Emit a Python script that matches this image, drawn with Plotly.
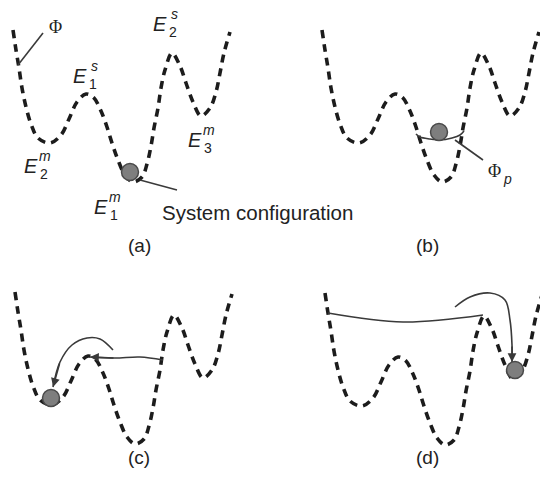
import plotly.graph_objects as go

# ---------------- data (local landscape units) ----------------
land_x = [0, 3, 6, 9, 13, 18, 25, 37, 48, 56, 64, 73, 81, 88, 94, 99, 105, 112, 120,
          129, 134, 138, 141, 145, 148, 152, 159, 167, 173, 180, 188, 197, 203, 207, 211, 217]
land_E = [170, 150, 132, 112, 93, 76, 62, 57, 65, 81, 98, 106, 102, 89, 73, 57, 40, 25, 18,
          23, 36, 54, 72, 92, 112, 130, 147, 134, 117, 98, 84, 92, 108, 127, 147, 168]

panel_names = ["(a)", "(b)", "(c)", "(d)"]
ball_x = [117, 117, 36, 190]
ball_E = [28, 68, 64, 93]

# panel (a) annotations
phi_lead_x = [5, 30]
phi_lead_E = [135, 167]
sys_lead_x = [127, 164]
sys_lead_E = [20, 10]
e_sup = ["s", "s", "m", "m", "m"]
e_sub = ["1", "2", "2", "3", "1"]
e_x = [67, 147, 18, 182, 88]
e_E = [124, 176, 34, 60, -7]

# panel (b): local harmonic approximation
phip_x = [94, 98, 108, 118, 130, 138, 142]
phip_E = [66, 63, 61, 60, 62, 65, 69]
phip_lead_x = [133, 161]
phip_lead_E = [60, 40]

# panel (c): paths
c_path_x = [148, 125, 100, 75]
c_path_E = [102, 105, 104, 105]
c_jump_x = [98, 85, 72, 57, 45, 38]
c_jump_E = [112, 123, 124, 117, 100, 75]

# panel (d): paths
d_path_x = [3, 78, 158]
d_path_E = [150, 141, 148]
d_jump_x = [130, 145, 165, 180, 185, 187, 187]
d_jump_E = [156, 166, 170, 163, 143, 118, 101]

# ---------------- figure ----------------
fig = go.Figure()
axes = [("x", "y"), ("x2", "y2"), ("x3", "y3"), ("x4", "y4")]
xdoms = [[0, 0.5], [0.5, 1], [0, 0.5], [0.5, 1]]
ydoms = [[0.5, 1], [0.5, 1], [0, 0.5], [0, 0.5]]
xranges = [[-13, 257], [-52, 218], [-15, 255], [-55, 215]]
yranges = [[-42.5, 200], [-42.5, 200], [-23, 219.5], [-22, 220.5]]

DASH = dict(color="#1c1c1c", width=3.6, dash="8px,6px", shape="spline", smoothing=1)
THIN = dict(color="#3a3a3a", width=1.6)
FONT = "Liberation Sans, Arial, sans-serif"

def thin(xs, ys, ax, spline=False):
    ln = dict(THIN)
    if spline:
        ln.update(shape="spline", smoothing=1)
    fig.add_trace(go.Scatter(x=xs, y=ys, mode="lines", line=ln,
                             xaxis=ax[0], yaxis=ax[1], hoverinfo="skip"))

for i, ax in enumerate(axes):
    fig.add_trace(go.Scatter(x=land_x, y=land_E, mode="lines", line=DASH,
                             xaxis=ax[0], yaxis=ax[1], hoverinfo="skip"))

# extra lines
thin(phi_lead_x, phi_lead_E, axes[0])
thin(sys_lead_x, sys_lead_E, axes[0])
thin(phip_x, phip_E, axes[1], spline=True)
thin(phip_lead_x, phip_lead_E, axes[1])
thin(c_path_x, c_path_E, axes[2], spline=True)
thin(c_jump_x, c_jump_E, axes[2], spline=True)
thin(d_path_x, d_path_E, axes[3], spline=True)
thin(d_jump_x, d_jump_E, axes[3], spline=True)

# balls
for i, ax in enumerate(axes):
    fig.add_trace(go.Scatter(x=[ball_x[i]], y=[ball_E[i]], mode="markers",
                             marker=dict(size=17, color="#7e7e7e",
                                         line=dict(color="#4a4a4a", width=1.5)),
                             xaxis=ax[0], yaxis=ax[1], hoverinfo="skip"))

ann = []
def head(xs, ys, ax):
    ann.append(dict(x=xs[-1], y=ys[-1], ax=xs[-2], ay=ys[-2],
                    xref=ax[0], yref=ax[1], axref=ax[0], ayref=ax[1],
                    showarrow=True, arrowhead=2, arrowsize=1.1, arrowwidth=1.6,
                    arrowcolor="#3a3a3a", text=""))

head(c_path_x, c_path_E, axes[2])
head(c_jump_x, c_jump_E, axes[2])
head(d_jump_x, d_jump_E, axes[3])

# E labels
for sup, sub, x, e in zip(e_sup, e_sub, e_x, e_E):
    ann.append(dict(x=x, y=e, xref="x", yref="y", showarrow=False, text="<i>E</i>",
                    font=dict(family=FONT, size=20, color="#222")))
    ann.append(dict(x=x, y=e, xref="x", yref="y", showarrow=False, text="<i>%s</i>" % sup,
                    xshift=14, yshift=10, font=dict(family=FONT, size=14, color="#222")))
    ann.append(dict(x=x, y=e, xref="x", yref="y", showarrow=False, text=sub,
                    xshift=12.5, yshift=-8, font=dict(family=FONT, size=14, color="#222")))

# Phi labels
ann.append(dict(x=42, y=173, xref="x", yref="y", showarrow=False, text="Φ",
                font=dict(family="Liberation Serif, serif", size=18, color="#222")))
ann.append(dict(x=172.5, y=29, xref="x2", yref="y2", showarrow=False, text="Φ",
                font=dict(family="Liberation Serif, serif", size=18, color="#222")))
ann.append(dict(x=172.5, y=29, xref="x2", yref="y2", showarrow=False, text="<i>p</i>",
                xshift=13, yshift=-8, font=dict(family=FONT, size=14, color="#222")))

# System configuration
ann.append(dict(x=147, y=-12, xref="x", yref="y", showarrow=False, xanchor="left",
                text="System configuration", font=dict(family=FONT, size=20.5, color="#222")))

# panel labels
lab_px = [126, 441, 126, 441]
lab_py = [245, 245, 470, 470]
for name, px, py in zip(panel_names, lab_px, lab_py):
    ann.append(dict(x=px / 540, y=1 - py / 485, xref="paper", yref="paper",
                    showarrow=False, text=name, font=dict(family=FONT, size=19, color="#222")))

layout = dict(width=540, height=485, margin=dict(l=0, r=0, t=0, b=0),
              paper_bgcolor="white", plot_bgcolor="white", showlegend=False,
              annotations=ann)
for i, ax in enumerate(axes):
    sfx = "" if i == 0 else str(i + 1)
    layout["xaxis" + sfx] = dict(domain=xdoms[i], range=xranges[i], visible=False,
                                 anchor="y" + sfx, fixedrange=True)
    layout["yaxis" + sfx] = dict(domain=ydoms[i], range=yranges[i], visible=False,
                                 anchor="x" + sfx, fixedrange=True)
fig.update_layout(**layout)
fig.write_html("out.html", config={"displayModeBar": False},
               post_script="document.body.style.margin='0';document.body.style.overflow='hidden';")
